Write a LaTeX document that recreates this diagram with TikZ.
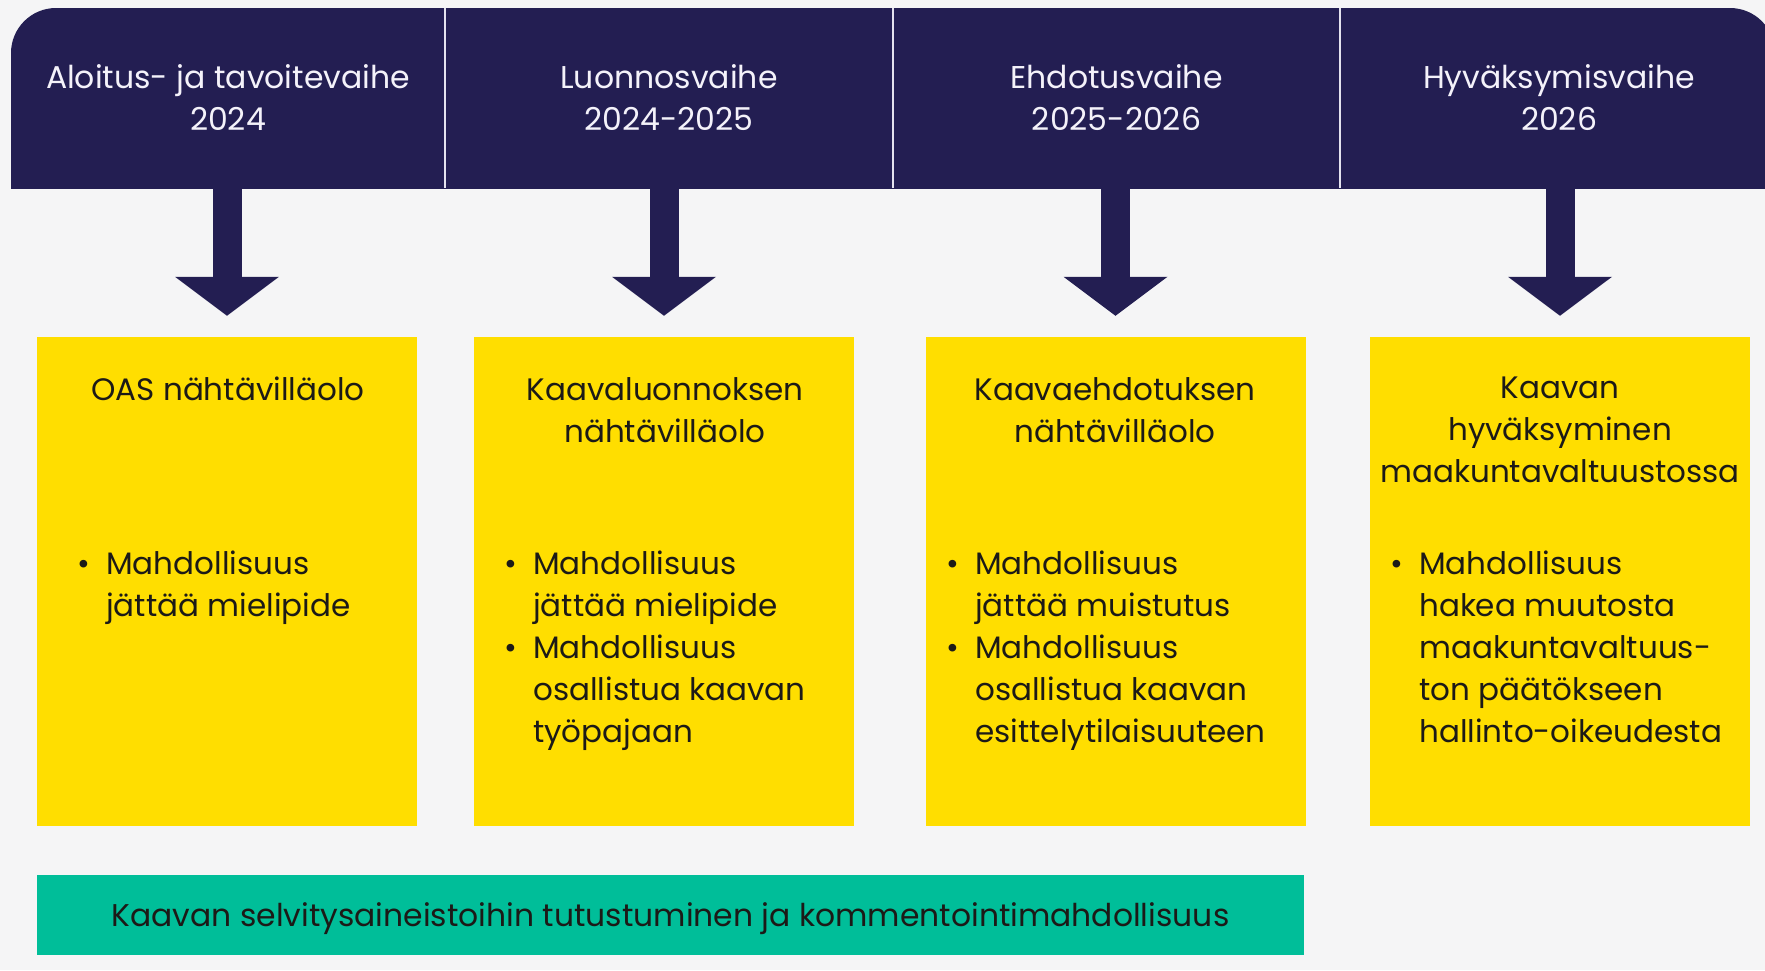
\documentclass[tikz,border=0pt]{standalone}
\usepackage{fontspec}
\setmainfont{Poppins}
\usetikzlibrary{arrows.meta}
\definecolor{navy}{HTML}{231E52}
\definecolor{ylw}{HTML}{FFDE00}
\definecolor{grn}{HTML}{00BE99}
\definecolor{bg}{HTML}{F5F5F6}
\definecolor{ink}{HTML}{1C1A17}
\definecolor{divc}{HTML}{E4E2EE}
\definecolor{htxt}{HTML}{F4F2FA}
\newcommand{\bitem}{\llap{\textbullet\hspace{16pt}}}
\begin{document}
\begin{tikzpicture}[x=1pt,y=-1pt,
  hcell/.style={minimum height=180pt, inner sep=0pt, text=htxt, align=center, font=\fontsize{31.5}{42}\selectfont},
  ybox/.style={fill=ylw, minimum width=380pt, minimum height=489pt, inner sep=0pt},
  ttl/.style={anchor=north, align=center, inner sep=0pt, text=ink, font=\fontsize{31}{42}\selectfont},
  bul/.style={anchor=north west, align=left, inner sep=0pt, text=ink, font=\fontsize{31}{42}\selectfont},
  bigarrow/.style={draw=navy, line width=29pt, -{Triangle[width=102pt,length=39pt]}, shorten >=21pt},
  divline/.style={draw=divc, line width=2pt},
]
\path[use as bounding box, fill=bg] (0,0) rectangle (1765,970);
\begin{scope}
  \clip (0,0) rectangle (1765,188);
  \fill[navy, rounded corners=45pt] (11,8) rectangle (1775,300);
\end{scope}
% header cells
\node[hcell, minimum width=434pt] (h1) at (228,98) {Aloitus- ja tavoitevaihe\\2024};
\node[hcell, minimum width=448pt] (h2) at (669,98) {Luonnosvaihe\\2024-2025};
\node[hcell, minimum width=447pt] (h3) at (1116.5,98) {Ehdotusvaihe\\2025-2026};
\node[hcell, minimum width=438pt] (h4) at (1559,98) {Hyväksymisvaihe\\2026};
\draw[divline] (h1.north east) -- (h1.south east);
\draw[divline] (h2.north east) -- (h2.south east);
\draw[divline] (h3.north east) -- (h3.south east);
% yellow boxes
\node[ybox] (b1) at (227,581.5) {};
\node[ybox] (b2) at (664,581.5) {};
\node[ybox] (b3) at (1115.5,581.5) {};
\node[ybox] (b4) at (1560,581.5) {};
% arrows
\draw[bigarrow] (b1.north |- h1.south) -- (b1.north);
\draw[bigarrow] (b2.north |- h2.south) -- (b2.north);
\draw[bigarrow] (b3.north |- h3.south) -- (b3.north);
\draw[bigarrow] (b4.north |- h4.south) -- (b4.north);
% titles
\node[ttl] (t1) at (228,377) {OAS nähtävilläolo};
\node[ttl] (t2) at (665,377) {Kaavaluonnoksen\\nähtävilläolo};
\node[ttl] (t3) at (1115,377) {Kaavaehdotuksen\\nähtävilläolo};
\node[ttl] (t4) at (1560,377) {Kaavan\\hyväksyminen\\maakuntavaltuustossa};
% bullets
\node[bul] (l1) at (106,551) {\bitem Mahdollisuus\\jättää mielipide};
\node[bul] (l2) at (533,551) {\bitem Mahdollisuus\\jättää mielipide\\\bitem Mahdollisuus\\osallistua kaavan\\työpajaan};
\node[bul] (l3) at (975,551) {\bitem Mahdollisuus\\jättää muistutus\\\bitem Mahdollisuus\\osallistua kaavan\\esittelytilaisuuteen};
\node[bul] (l4) at (1419,551) {\bitem Mahdollisuus\\hakea muutosta\\maakuntavaltuus-\\ton päätökseen\\hallinto-oikeudesta};
% green bar
\node[fill=grn, minimum width=1267pt, minimum height=80pt, inner sep=0pt, text depth=0pt, text=ink, font=\fontsize{31.4}{42}\selectfont] (g) at (670.5,915) {Kaavan selvitysaineistoihin tutustuminen ja kommentointimahdollisuus};
\end{tikzpicture}
\end{document}
